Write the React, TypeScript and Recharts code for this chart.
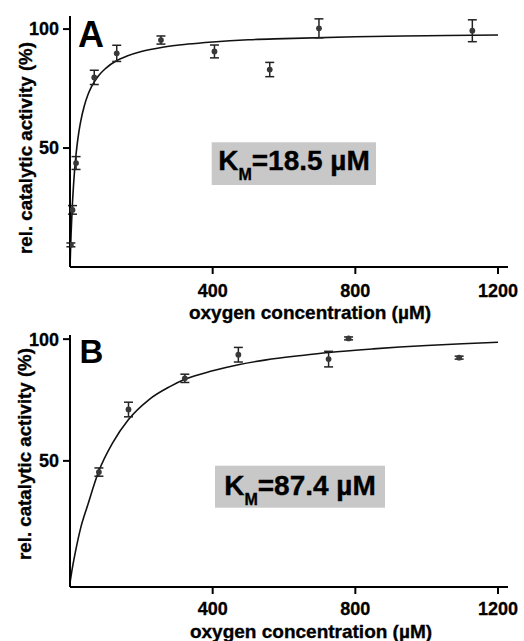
import { ComposedChart, Line, Scatter, ErrorBar, XAxis, YAxis } from "recharts";

// measured points, panel A
const xA = [2.5, 7, 17, 68, 131, 255, 405, 560, 698, 1128];
const yA = [9.3, 24, 43.7, 79.7, 89.8, 95.4, 90.6, 83, 100.3, 99.3];
const errA = [0.8, 1.8, 2.7, 3, 3.4, 1.7, 2.7, 3, 4, 4.6];

// fitted curve, panel A
const fitXA = [0, 3, 6, 10, 15, 20, 25, 30, 40, 50, 60, 80, 100, 130, 160, 200, 260, 330, 400, 500, 600, 800, 1000, 1200];
const fitYA = [0, 13.8, 24.2, 34.7, 44.3, 51.4, 56.9, 61.2, 67.7, 72.3, 75.7, 80.4, 83.5, 86.7, 88.7, 90.6, 92.4, 93.7, 94.6, 95.5, 96, 96.8, 97.2, 97.5];

// measured points, panel B
const xB = [81, 164, 322, 472, 725, 781, 1091];
const yB = [45.4, 71.1, 83.9, 93.6, 91.8, 100.3, 92.4];
const errB = [1.7, 3, 1.7, 3, 3.2, 0.6, 0.6];

// fitted curve, panel B
const fitXB = [0, 5, 15, 30, 50, 80, 120, 164, 220, 280, 322, 400, 472, 550, 650, 725, 850, 1000, 1100, 1200];
const fitYB = [0, 4.6, 12.5, 22.5, 32, 45.5, 57.5, 67, 75, 80.5, 83.5, 87, 89.5, 91.5, 93.3, 94.5, 96, 97.4, 98.1, 98.7];

const xTicks = [400, 800, 1200];
const yTicks = [50, 100];

const FONT = "'Liberation Sans', Arial, Helvetica, sans-serif";

const toPoints = (xs: number[], ys: number[], es?: number[]) =>
  xs.map((x, i) => ({ x, y: ys[i], err: es ? es[i] : 0 }));

const Dot = (props: any) => <circle cx={props.cx} cy={props.cy} r={2.9} fill="#383838" />;

type PanelProps = {
  pts: { x: number; y: number; err: number }[];
  fit: { x: number; y: number; err: number }[];
  yDomain: [number, number];
  height: number;
  top: number;
  bottom: number;
  xTickGap: number;
};

function Panel({ pts, fit, yDomain, height, top, bottom, xTickGap }: PanelProps) {
  const axisStyle = { stroke: "#000", strokeWidth: 2 };
  const tickStyle = { fill: "#000", fontSize: 18, fontWeight: 700, fontFamily: FONT, stroke: "#000", strokeWidth: 0.3 };
  return (
    <ComposedChart width={524} height={height} margin={{ top, right: 16, bottom, left: 0 }}>
      <XAxis
        type="number"
        dataKey="x"
        domain={[0, 1228]}
        ticks={xTicks}
        allowDataOverflow
        height={30}
        tickSize={7}
        tickMargin={xTickGap}
        axisLine={axisStyle}
        tickLine={axisStyle}
        tick={tickStyle}
      />
      <YAxis
        type="number"
        domain={yDomain}
        ticks={yTicks}
        allowDataOverflow
        width={70}
        tickSize={7}
        tickMargin={4}
        axisLine={axisStyle}
        tickLine={axisStyle}
        tick={tickStyle}
      />
      <Line
        data={fit}
        dataKey="y"
        type="monotone"
        stroke="#111"
        strokeWidth={1.6}
        dot={false}
        activeDot={false}
        isAnimationActive={false}
      />
      <Scatter data={pts} dataKey="y" shape={Dot} isAnimationActive={false}>
        <ErrorBar dataKey="err" direction="y" width={4.5} stroke="#222" strokeWidth={1.5} />
      </Scatter>
    </ComposedChart>
  );
}

export default function App() {
  const ptsA = toPoints(xA, yA, errA);
  const fitA = toPoints(fitXA, fitYA);
  const ptsB = toPoints(xB, yB, errB);
  const fitB = toPoints(fitXB, fitYB);
  const bold = { fontFamily: FONT, fontWeight: 700, fill: "#000" };
  const heavy = { ...bold, stroke: "#000", strokeWidth: 0.35 };

  return (
    <div style={{ position: "absolute", left: 0, top: 0, width: 524, height: 641, background: "#fff", overflow: "hidden" }}>
      <div style={{ position: "absolute", left: 0, top: 0 }}>
        <Panel pts={ptsA} fit={fitA} yDomain={[0, 105.5]} height={320} top={16} bottom={23} xTickGap={10} />
      </div>
      <div style={{ position: "absolute", left: 0, top: 320 }}>
        <Panel pts={ptsB} fit={fitB} yDomain={[-1.8, 101.7]} height={321} top={15} bottom={24} xTickGap={8} />
      </div>
      <svg
        width={524}
        height={641}
        style={{ position: "absolute", left: 0, top: 0, pointerEvents: "none", overflow: "visible" }}
      >
        {/* panel A */}
        <text x={78} y={46.5} fontSize={36} {...bold}>A</text>
        <text x={32} y={148} fontSize={18.7} textAnchor="middle" transform="rotate(-90, 32, 148)" {...heavy}>
          rel. catalytic activity (%)
        </text>
        <text x={310} y={319} fontSize={19} textAnchor="middle" {...heavy}>oxygen concentration (µM)</text>
        <rect x={211.7} y={142.3} width={164.3} height={42.7} fill="#c8c8c8" />
        <text x={294} y={170} fontSize={28} textAnchor="middle" {...heavy}>
          K<tspan fontSize={16} dy={10}>M</tspan>
          <tspan dy={-10}>=18.5 µM</tspan>
        </text>

        {/* panel B */}
        <text x={79.5} y={362.5} fontSize={33} {...bold}>B</text>
        <text x={31} y={454} fontSize={18.7} textAnchor="middle" transform="rotate(-90, 31, 454)" {...heavy}>
          rel. catalytic activity (%)
        </text>
        <text x={311} y={637.5} fontSize={19} textAnchor="middle" {...heavy}>oxygen concentration (µM)</text>
        <rect x={215} y={465.7} width={170} height={42} fill="#c8c8c8" />
        <text x={300} y={495} fontSize={28} textAnchor="middle" {...heavy}>
          K<tspan fontSize={16} dy={10}>M</tspan>
          <tspan dy={-10}>=87.4 µM</tspan>
        </text>
      </svg>
    </div>
  );
}
